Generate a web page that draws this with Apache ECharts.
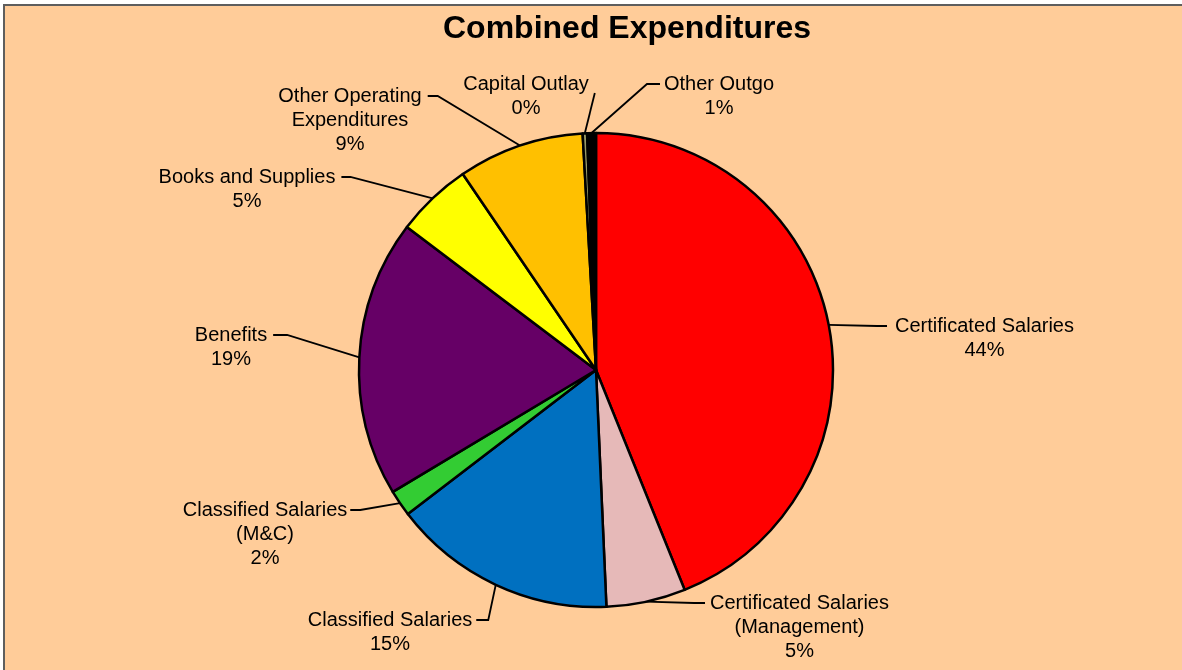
<!DOCTYPE html>
<html>
<head>
<meta charset="utf-8">
<title>Combined Expenditures</title>
<script src="https://cdn.jsdelivr.net/npm/echarts@6/dist/echarts.min.js"></script>
<style>
  html, body { margin: 0; padding: 0; background: #ffffff; overflow: hidden; }
  #frame {
    position: absolute; left: 3px; top: 4px; width: 1179px; height: 666px;
    border-top: 2px solid #5e5e5e; border-left: 2px solid #5e5e5e;
    background: #FFCC99;
  }
  #chart { width: 1177px; height: 664px; }
</style>
</head>
<body>
<div id="frame"><div id="chart"></div></div>
<script>
// Expenditure categories, clockwise from 12 o'clock
const categories = [
  'Certificated Salaries',
  'Certificated Salaries\n(Management)',
  'Classified Salaries',
  'Classified Salaries\n(M&C)',
  'Benefits',
  'Books and Supplies',
  'Other Operating\nExpenditures',
  'Capital Outlay',
  'Other Outgo'
];
// Share of combined expenditures (percent)
const shares = [43.9, 5.4, 15.3, 1.8, 18.9, 5.2, 8.6, 0.3, 0.6];
const sliceColors = ['#FF0000', '#E6B9B8', '#0070C0', '#33CC33', '#660066',
                     '#FFFF00', '#FFC000', '#999966', '#000000'];

// Label placement (chart pixels): centre x, first-line centre y,
// side where the leader line meets the text, gap to the text, horizontal stub
const labelSpots = [
  { cx: 979.5, y1: 320, side: 'left',  gap: 8, stub: 10 },
  { cx: 794.5, y1: 597, side: 'left',  gap: 5, stub: 11 },
  { cx: 385,   y1: 614, side: 'right', gap: 4, stub: 12 },
  { cx: 260,   y1: 504, side: 'right', gap: 3, stub: 10 },
  { cx: 226,   y1: 329, side: 'right', gap: 6, stub: 14 },
  { cx: 242,   y1: 171, side: 'right', gap: 6, stub: 9 },
  { cx: 345,   y1: 90,  side: 'right', gap: 6, stub: 10 },
  { cx: 521,   y1: 78,  side: 'corner', gap: 6, stub: 0 },
  { cx: 714,   y1: 78,  side: 'left',  gap: 4, stub: 13 }
];
const LINE_H = 24;

const chart = echarts.init(document.getElementById('chart'), null, { renderer: 'canvas' });

chart.setOption({
  animation: false,
  backgroundColor: 'transparent',
  title: {
    text: 'Combined Expenditures',
    left: 438,
    top: 7,
    padding: 0,
    textStyle: {
      fontFamily: 'Liberation Sans, Arial, sans-serif',
      fontSize: 32,
      fontWeight: 'bold',
      color: '#000000'
    }
  },
  series: [{
    type: 'pie',
    center: [591, 364],
    radius: 237,
    startAngle: 90,
    clockwise: true,
    avoidLabelOverlap: false,
    percentPrecision: 0,
    emphasis: { disabled: true },
    data: categories.map((name, i) => ({
      name: name,
      value: shares[i],
      itemStyle: { color: sliceColors[i] }
    })),
    itemStyle: { borderColor: '#000000', borderWidth: 2.5 },
    label: {
      show: true,
      position: 'outside',
      formatter: '{b}\n{d}%',
      fontFamily: 'Liberation Sans, Arial, sans-serif',
      fontSize: 20,
      lineHeight: LINE_H,
      color: '#000000'
    },
    labelLine: {
      show: true,
      length: 20,
      length2: 10,
      smooth: false,
      lineStyle: { color: '#000000', width: 1.8 }
    },
    labelLayout: function (p) {
      const s = labelSpots[p.dataIndex];
      const w = p.labelRect.width;
      const edge = p.labelLinePoints ? p.labelLinePoints[0] : null;
      let end, elbow;
      if (s.side === 'left') {
        end = [s.cx - w / 2 - s.gap, s.y1];
        elbow = [end[0] - s.stub, s.y1];
      } else if (s.side === 'right') {
        end = [s.cx + w / 2 + s.gap, s.y1];
        elbow = [end[0] + s.stub, s.y1];
      } else {
        end = [s.cx + w / 2 + s.gap, s.y1 + 9];
        elbow = end.slice();
      }
      const out = {
        x: s.cx,
        y: s.y1 - LINE_H / 2,
        align: 'center',
        verticalAlign: 'top'
      };
      if (edge) {
        out.labelLinePoints = [edge, elbow, end];
      }
      return out;
    }
  }]
});
</script>
</body>
</html>
